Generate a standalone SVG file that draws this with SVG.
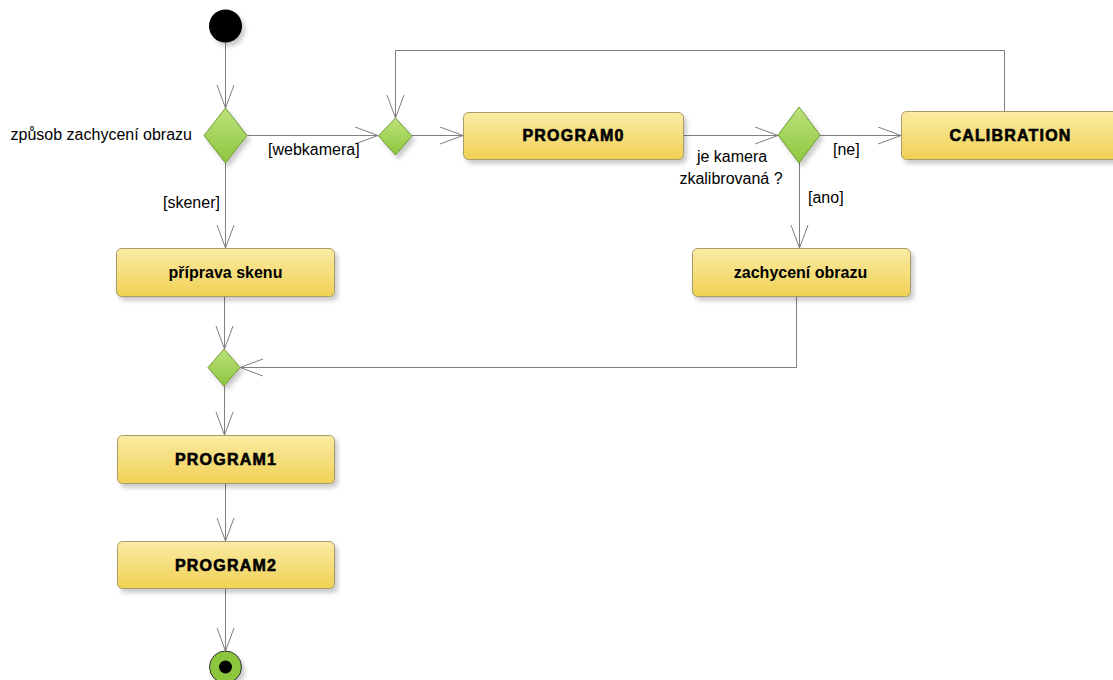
<svg xmlns="http://www.w3.org/2000/svg" width="1113" height="680" viewBox="0 0 1113 680">
<style>
.line{fill:none;stroke:#808080;stroke-width:1}
.box{fill:url(#gBox);stroke:#a89a6a;stroke-width:1;filter:url(#sh)}
.dia{fill:url(#gDia);stroke:#6f9a35;stroke-width:1;filter:url(#sh)}
.lbl{font-family:"Liberation Sans",Arial,sans-serif;font-size:16px;fill:#000}
.bt{font-family:"Liberation Sans",Arial,sans-serif;font-size:16px;font-weight:bold;fill:#000;text-anchor:middle}
.bh{font-family:"Liberation Sans",Arial,sans-serif;font-size:16px;font-weight:bold;fill:#000;stroke:#000;stroke-width:0.6;letter-spacing:1.2px;text-anchor:middle}
</style>
<defs>
<linearGradient id="gBox" x1="0" y1="0" x2="0" y2="1">
<stop offset="0" stop-color="#fbeba4"/>
<stop offset="1" stop-color="#f0d154"/>
</linearGradient>
<linearGradient id="gDia" x1="0" y1="0" x2="0" y2="1">
<stop offset="0" stop-color="#bde27c"/>
<stop offset="1" stop-color="#8cc63e"/>
</linearGradient>
<filter id="sh" x="-10%" y="-10%" width="130%" height="140%">
<feDropShadow dx="3" dy="4" stdDeviation="2" flood-color="#000" flood-opacity="0.2"/>
</filter>
<marker id="arr" markerUnits="userSpaceOnUse" markerWidth="30" markerHeight="20" refX="24" refY="9" orient="auto">
<path d="M1,0.5 L24,9 L1,17.5" fill="none" stroke="#808080" stroke-width="1"/>
</marker>
</defs>

<g id="connectors">
<path class="line" d="M225.5,42 L225.5,108" marker-end="url(#arr)"/>
<path class="line" d="M247,135.5 L378,135.5" marker-end="url(#arr)"/>
<path class="line" d="M225.5,163 L225.5,248" marker-end="url(#arr)"/>
<path class="line" d="M412,135.5 L463,135.5" marker-end="url(#arr)"/>
<path class="line" d="M684,135.5 L778,135.5" marker-end="url(#arr)"/>
<path class="line" d="M820,135.5 L901,135.5" marker-end="url(#arr)"/>
<path class="line" d="M1004.5,111 L1004.5,50.5 L395.5,50.5 L395.5,118" marker-end="url(#arr)"/>
<path class="line" d="M799.5,163 L799.5,248" marker-end="url(#arr)"/>
<path class="line" d="M224.5,296 L224.5,349" marker-end="url(#arr)"/>
<path class="line" d="M796.5,297 L796.5,367.5 L240,367.5" marker-end="url(#arr)"/>
<path class="line" d="M224.5,386 L224.5,435" marker-end="url(#arr)"/>
<path class="line" d="M225.5,484 L225.5,541" marker-end="url(#arr)"/>
<path class="line" d="M225.5,589 L225.5,651" marker-end="url(#arr)"/>
</g>

<g id="start"><circle cx="225.5" cy="26" r="16.5" fill="#000" filter="url(#sh)"/></g>

<g id="decision1">
<polygon class="dia" points="225.5,108 247,135.5 225.5,163 204,135.5"/>
<text class="lbl" x="192" y="140" text-anchor="end">způsob zachycení obrazu</text>
</g>
<g id="merge_top">
<polygon class="dia" points="395.5,118 412,136 395.5,155 378.5,136"/>
</g>
<g id="decision2">
<polygon class="dia" points="799,107 820,135 799,163 778,135"/>
<text class="lbl" x="732" y="162" text-anchor="middle">je kamera</text>
<text class="lbl" x="731" y="184" text-anchor="middle">zkalibrovaná ?</text>
</g>
<g id="merge_bottom">
<polygon class="dia" points="224,349 240,367.5 224,386 208,367.5"/>
</g>

<g id="labels">
<text class="lbl" x="268" y="155">[webkamera]</text>
<text class="lbl" x="163" y="208">[skener]</text>
<text class="lbl" x="833" y="155">[ne]</text>
<text class="lbl" x="808" y="203">[ano]</text>
</g>

<g id="priprava">
<rect class="box" x="116.5" y="248.5" width="218" height="48" rx="5"/>
<text class="bt" x="225.5" y="278">příprava skenu</text>
</g>
<g id="program0">
<rect class="box" x="463.5" y="112.5" width="220" height="47" rx="5"/>
<text class="bh" x="573.5" y="141">PROGRAM0</text>
</g>
<g id="calibration">
<rect class="box" x="901.5" y="111.5" width="230" height="48" rx="5"/>
<text class="bh" x="1010.5" y="141">CALIBRATION</text>
</g>
<g id="zachyceni">
<rect class="box" x="692.5" y="248.5" width="218" height="48" rx="5"/>
<text class="bt" x="800.5" y="278">zachycení obrazu</text>
</g>
<g id="program1">
<rect class="box" x="117.5" y="435.5" width="217" height="48" rx="5"/>
<text class="bh" x="226" y="465">PROGRAM1</text>
</g>
<g id="program2">
<rect class="box" x="117.5" y="541.5" width="217" height="47" rx="5"/>
<text class="bh" x="226" y="571">PROGRAM2</text>
</g>

<g id="end">
<circle cx="225.5" cy="667" r="16" fill="#8cc63e" stroke="#333" stroke-width="1" filter="url(#sh)"/>
<circle cx="225.5" cy="667" r="6.5" fill="#000"/>
</g>
</svg>
